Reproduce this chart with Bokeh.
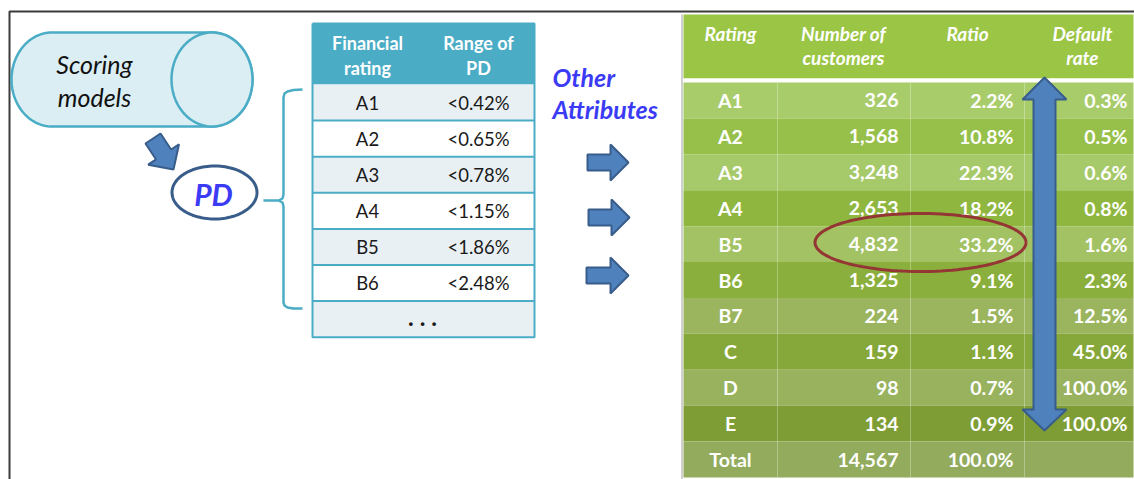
import numpy as np
from bokeh.plotting import figure
from bokeh.models import Range1d
from bokeh.core.properties import value
from bokeh.embed import file_html
from bokeh.resources import INLINE

# ---------------- data ----------------
pd_ratings = ["A1", "A2", "A3", "A4", "B5", "B6"]
pd_ranges = ["<0.42%", "<0.65%", "<0.78%", "<1.15%", "<1.86%", "<2.48%"]
ratings = ["A1", "A2", "A3", "A4", "B5", "B6", "B7", "C", "D", "E"]
customers = [326, 1568, 3248, 2653, 4832, 1325, 224, 159, 98, 134]
ratio_pct = [2.2, 10.8, 22.3, 18.2, 33.2, 9.1, 1.5, 1.1, 0.7, 0.9]
default_rate_pct = [0.3, 0.5, 0.6, 0.8, 1.6, 2.3, 12.5, 45.0, 100.0, 100.0]
total_label = "Total"
total_customers = 14567
total_ratio_pct = 100.0
left_headers = [["Financial", "rating"], ["Range of", "PD"]]
right_headers = [["Rating"], ["Number of", "customers"], ["Ratio"], ["Default", "rate"]]

FONT = value("Lato")
W, H = 1134, 479
p = figure(width=W, height=H, x_range=Range1d(0, 1134), y_range=Range1d(479, 0),
           output_backend="svg", toolbar_location=None, min_border=0,
           x_axis_location=None, y_axis_location=None)
p.grid.visible = False
p.outline_line_color = None
p.background_fill_color = "white"
p.border_fill_color = "white"


def txt(xs, ys, texts, size, color, style="normal", align="center"):
    p.text(x=list(xs), y=list(ys), text=list(texts), text_font=FONT,
           text_font_size=f"{size}px", text_color=color, text_font_style=style,
           text_align=align, text_baseline="middle")


def ellipse_pts(cx, cy, rx, ry, n=120):
    t = np.linspace(0, 2 * np.pi, n)
    return cx + rx * np.cos(t), cy + ry * np.sin(t)


def block_arrow(tail, tip, shaft_w, head_w, head_len):
    t = np.array(tail, float)
    h = np.array(tip, float)
    d = h - t
    u = d / np.linalg.norm(d)
    n = np.array([-u[1], u[0]])
    b = h - u * head_len
    pts = [t + n * shaft_w / 2, b + n * shaft_w / 2, b + n * head_w / 2, h,
           b - n * head_w / 2, b - n * shaft_w / 2, t - n * shaft_w / 2]
    return [q[0] for q in pts], [q[1] for q in pts]


ARROW_FILL = "#4F81BD"
ARROW_LINE = "#385D8A"

# ---------------- frame ----------------
p.line([9, 9, 1134], [479, 11, 11], line_color="#3a3a3a", line_width=2)

# ---------------- cylinder ----------------
cy, ry, rx = 79, 47, 40.5
cl, cr = 51.5, 211.5
t1 = np.linspace(np.pi / 2, 3 * np.pi / 2, 60)
t2 = np.linspace(3 * np.pi / 2, 5 * np.pi / 2, 60)
xs = np.concatenate([cl + rx * np.cos(t1), cr + rx * np.cos(t2)])
ys = np.concatenate([cy + ry * np.sin(t1), cy + ry * np.sin(t2)])
p.patch(xs, ys, fill_color="#DAEEF3", line_color="#4BACC6", line_width=2.5)
ex, ey = ellipse_pts(cr, cy, rx, ry)
p.patch(ex, ey, fill_color="#DAEEF3", line_color="#4BACC6", line_width=2.5)
txt([94, 94], [63, 96], ["Scoring", "models"], 25, "#111111", "italic")

# small arrow to PD
ax, ay = block_arrow((152.5, 138), (173, 169), 18, 37, 18)
p.patch(ax, ay, fill_color=ARROW_FILL, line_color=ARROW_LINE, line_width=2)

# PD ellipse
ex, ey = ellipse_pts(214, 192, 42.5, 26.5)
p.patch(ex, ey, fill_color="white", line_color="#385D8A", line_width=3)
txt([213], [193], ["PD"], 30, "#3B3BF5", "bold italic")

# brace
bx = [302, 293, 287, 284, 283, 283, 282, 278, 263]
by = [89, 89.5, 91, 93, 97, 194, 198, 200, 200]
bx2 = [263, 278, 282, 283, 283, 284, 287, 293, 302]
by2 = [200, 200, 202, 206, 302, 305, 307, 308, 308]
p.line(bx + bx2, by + by2, line_color="#4BACC6", line_width=2.5)

# ---------------- middle table ----------------
mt_l, mt_r = 312, 534
mt_top, mt_hdr_bot = 23, 84
row_h = 36.1
n_rows = len(pd_ratings) + 1
tops = [mt_hdr_bot + i * row_h for i in range(n_rows)]
bots = [t + row_h for t in tops]
fills = ["#E9F0F3" if i % 2 == 0 else "#FFFFFF" for i in range(n_rows)]
p.quad(left=mt_l, right=mt_r, top=mt_top, bottom=mt_hdr_bot, fill_color="#4BACC6", line_color=None)
p.quad(left=[mt_l] * n_rows, right=[mt_r] * n_rows, top=tops, bottom=bots,
       fill_color=fills, line_color=None)
for b in tops[1:]:
    p.line([mt_l, mt_r], [b, b], line_color="#4BACC6", line_width=2)
p.line([mt_l, mt_r, mt_r, mt_l, mt_l], [mt_top, mt_top, bots[-1], bots[-1], mt_top],
       line_color="#4BACC6", line_width=2)
col1_x, col2_x = 367, 478
txt([col1_x, col1_x], [42, 67], left_headers[0], 18, "white", "bold")
txt([col2_x, col2_x], [42, 67], left_headers[1], 18, "white", "bold")
mids = [t + row_h / 2 for t in tops[:len(pd_ratings)]]
txt([col1_x] * len(pd_ratings), mids, pd_ratings, 18.5, "#1a1a1a")
txt([col2_x] * len(pd_ranges), mids, pd_ranges, 18.5, "#1a1a1a")
txt([422], [tops[-1] + row_h / 2 - 3], [". . ."], 24, "#1a1a1a", "bold")

# Other attributes
txt([552, 552], [76, 108], ["Other", "Attributes"], 25, "#3B3BF5", "bold italic", "left")

# three right arrows
for yy, x0, x1 in [(162, 587, 628), (217, 588, 629), (275, 586, 628)]:
    ax, ay = block_arrow((x0, yy), (x1, yy), 16, 36, 18)
    p.patch(ax, ay, fill_color=ARROW_FILL, line_color=ARROW_LINE, line_width=2)

# ---------------- green table ----------------
gl, gr = 683, 1133
g_top, g_hdr_bot = 14, 78
g_body_top = 82
g_row_h = (477 - g_body_top) / 11
p.line([681.5, 681.5], [g_top, 479], line_color="#d0d0d0", line_width=2)
p.quad(left=gl, right=gr, top=g_top, bottom=g_hdr_bot, fill_color="#9BC545", line_color=None)
p.quad(left=gl, right=gr, top=g_hdr_bot, bottom=g_body_top, fill_color="white", line_color=None)
row_colors = ["#A9CC6B", "#97C04A", "#A6C969", "#8FB740", "#A2C263", "#8BAF3D",
              "#9BB55F", "#86A739", "#98B25E", "#7E9D35", "#92AB5C"]
g_tops = [g_body_top + i * g_row_h for i in range(11)]
g_bots = [t + g_row_h for t in g_tops]
p.quad(left=[gl] * 11, right=[gr] * 11, top=g_tops, bottom=g_bots,
       fill_color=row_colors, line_color=None)
for cx in [777, 910, 1024]:
    p.line([cx, cx], [g_body_top, 477], line_color="white", line_alpha=0.3, line_width=1)

hdr_x = [730, 843, 967, 1082]
for hx, lines in zip(hdr_x, right_headers):
    txt([hx] * len(lines), [33, 57][:len(lines)], lines, 19, "white", "bold italic")

g_mids = [t + g_row_h / 2 for t in g_tops]
col_rating = ratings + [total_label]
col_cust = [f"{c:,}" for c in customers] + [f"{total_customers:,}"]
col_ratio = [f"{r:.1f}%" for r in ratio_pct] + [f"{total_ratio_pct:.1f}%"]
col_def = [f"{d:.1f}%" for d in default_rate_pct]
txt([730] * 11, g_mids, col_rating, 19.5, "white", "bold")
txt([898] * 11, g_mids, col_cust, 19.5, "white", "bold", "right")
txt([1013] * 11, g_mids, col_ratio, 19.5, "white", "bold", "right")
txt([1127] * 10, g_mids[:10], col_def, 19.5, "white", "bold", "right")

# highlight ellipse
ex, ey = ellipse_pts(920, 242, 105.5, 29)
p.line(ex, ey, line_color="#943634", line_width=3)

# double arrow
dxc, sw, hw = 1044, 11, 22
top_tip, top_base, bot_base, bot_tip = 77, 99, 409, 430
dx = [dxc, dxc + hw, dxc + sw, dxc + sw, dxc + hw, dxc, dxc - hw, dxc - sw, dxc - sw, dxc - hw]
dy = [top_tip, top_base, top_base, bot_base, bot_base, bot_tip, bot_base, bot_base, top_base, top_base]
p.patch(dx, dy, fill_color=ARROW_FILL, line_color=ARROW_LINE, line_width=2)

open("out.html", "w").write(file_html(p, INLINE))
